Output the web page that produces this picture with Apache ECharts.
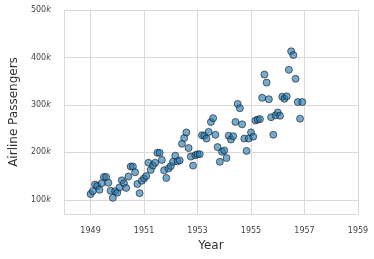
<!DOCTYPE html>
<html>
<head>
<meta charset="utf-8">
<script src="https://cdn.jsdelivr.net/npm/echarts@6/dist/echarts.min.js"></script>
<style>
  html, body { margin: 0; padding: 0; background: #fff; }
  #chart { width: 374px; height: 259px; }
</style>
</head>
<body>
<div id="chart"></div>
<script>
// monthly airline passengers (thousands), 1949-1956
var startYear = 1949;
var passengers = [
  112, 118, 132, 129, 121, 135, 148, 148, 136, 119, 104, 118,
  115, 126, 141, 135, 125, 149, 170, 170, 158, 133, 114, 140,
  145, 150, 178, 163, 172, 178, 199, 199, 184, 162, 146, 166,
  171, 180, 193, 181, 183, 218, 230, 242, 209, 191, 172, 194,
  196, 196, 236, 235, 229, 243, 264, 272, 237, 211, 180, 201,
  204, 188, 235, 227, 234, 264, 302, 293, 259, 229, 203, 229,
  242, 233, 267, 269, 270, 315, 364, 347, 312, 274, 237, 278,
  284, 277, 317, 313, 318, 374, 413, 405, 355, 306, 271, 306
];
var yearTicks = [1949, 1951, 1953, 1955, 1957, 1959];
var passengerTicks = [100000, 200000, 300000, 400000, 500000];

var points = [];
for (var i = 0; i < passengers.length; i++) {
  points.push([startYear + i / 12, passengers[i] * 1000]);
}

var gridColor = '#d9d9d9';
var chart = echarts.init(document.getElementById('chart'));
chart.setOption({
  animation: false,
  grid: { left: 55, right: 16, top: 10, bottom: 45 },
  xAxis: {
    type: 'value',
    min: 1948,
    max: 1959,
    name: 'Year',
    nameLocation: 'middle',
    nameGap: 26,
    nameTextStyle: { fontFamily: 'DejaVu Sans', fontSize: 12, color: '#333' },
    axisLine: { show: true, lineStyle: { color: gridColor } },
    axisTick: { show: false, customValues: yearTicks },
    axisLabel: {
      customValues: yearTicks,
      fontFamily: 'DejaVu Sans', fontSize: 8, color: '#444', margin: 13,
      formatter: function (v) { return String(v); }
    },
    splitLine: { show: true, lineStyle: { color: gridColor, width: 1 } }
  },
  yAxis: {
    type: 'value',
    min: 70000,
    max: 500000,
    name: 'Airline Passengers',
    nameLocation: 'middle',
    nameGap: 37,
    nameTextStyle: { fontFamily: 'DejaVu Sans', fontSize: 12, color: '#333' },
    axisLine: { show: true, lineStyle: { color: gridColor } },
    axisTick: { show: false, customValues: passengerTicks },
    axisLabel: {
      customValues: passengerTicks,
      fontFamily: 'DejaVu Sans', fontSize: 8, color: '#444', margin: 13,
      formatter: function (v) { return (v / 1000) + '{k|k}'; },
      rich: { k: { fontStyle: 'italic', fontFamily: 'DejaVu Sans', fontSize: 8, color: '#444' } }
    },
    splitLine: { show: true, lineStyle: { color: gridColor, width: 1 } }
  },
  series: [{
    type: 'scatter',
    data: points,
    symbolSize: 7,
    itemStyle: {
      color: 'rgba(31,119,180,0.78)',
      borderColor: '#1a1a1a',
      borderWidth: 0.8
    }
  }]
});
</script>
</body>
</html>
